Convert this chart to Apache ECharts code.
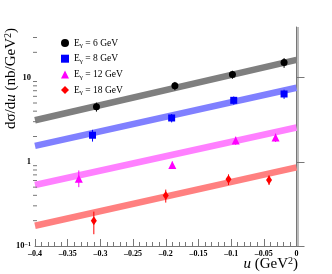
<!DOCTYPE html>
<html><head><meta charset="utf-8">
<script src="https://cdn.jsdelivr.net/npm/echarts@6/dist/echarts.min.js"></script>
<style>html,body{margin:0;padding:0;background:#fff}#c{width:332px;height:274px}</style>
</head><body><div id="c"></div>
<script>
// ---- data ----
const energies = ['6', '8', '12', '18'];
const u6 = [-0.306, -0.186, -0.098, -0.019];
const v6 = [4.5, 8.0, 10.9, 15.1];
const e6lo = [0.55, 0.9, 1.2, 2.0];
const e6hi = [0.55, 0.9, 1.2, 2.0];
const u8 = [-0.312, -0.191, -0.096, -0.019];
const v8 = [2.07, 3.32, 5.38, 6.4];
const e8lo = [0.33, 0.38, 0.6, 0.8];
const e8hi = [0.33, 0.38, 0.6, 0.8];
const u12 = [-0.333, -0.19, -0.093, -0.032];
const v12 = [0.63, 0.92, 1.79, 1.94];
const e12lo = [0.13, 0.09, 0.2, 0.22];
const e12hi = [0.16, 0.09, 0.2, 0.22];
const u18 = [-0.31, -0.2, -0.104, -0.042];
const v18 = [0.2, 0.398, 0.62, 0.61];
const e18lo = [0.062, 0.07, 0.09, 0.08];
const e18hi = [0.056, 0.07, 0.09, 0.08];
const fitU = [-0.4, 0];
const fit6 = [3.12, 16.3];
const fit8 = [1.55, 7.6];
const fit12 = [0.53, 2.56];
const fit18 = [0.174, 0.86];
const yMinorTicks = [0.2,0.3,0.4,0.5,0.6,0.7,0.8,0.9,2,3,4,5,6,7,8,9,20,30];
const xMin = -0.4, xMax = 0, yMin = 0.1, yMax = 40;

const colors = ['#000000', '#0000ff', '#ff00ff', '#ff0000'];
const bandColors = ['#7f7f7f', '#8080ff', '#ff80ff', '#ff8080'];
const symbols = ['circle', 'rect', 'triangle', 'diamond'];
const symSizes = [7, 7, 8, [6, 9]];
const us = [u6, u8, u12, u18], vs = [v6, v8, v12, v18];
const los = [e6lo, e8lo, e12lo, e18lo], his = [e6hi, e8hi, e12hi, e18hi];
const fits = [fit6, fit8, fit12, fit18];

const serif = '"Liberation Serif", "DejaVu Serif", serif';
const series = [];
energies.forEach((E, i) => {
  series.push({
    type: 'line', silent: true, symbol: 'none', z: 1,
    data: fitU.map((x, k) => [x, fits[i][k]]),
    lineStyle: { color: bandColors[i], width: 6.5, cap: 'butt' }
  });
});
energies.forEach((E, i) => {
  series.push({
    type: 'custom', silent: true, z: 3,
    data: us[i].map((x, k) => [x, vs[i][k], los[i][k], his[i][k]]),
    renderItem: function (params, api) {
      const x = api.value(0), y = api.value(1);
      const a = api.coord([x, y - api.value(2)]);
      const b = api.coord([x, y + api.value(3)]);
      return { type: 'line', shape: { x1: a[0], y1: a[1], x2: b[0], y2: b[1] },
        style: { stroke: colors[i], lineWidth: 1 } };
    }
  });
});
energies.forEach((E, i) => {
  series.push({
    name: E, type: 'scatter', z: 5,
    symbol: symbols[i], symbolSize: symSizes[i],
    itemStyle: { color: colors[i], opacity: 1 },
    data: us[i].map((x, k) => [x, vs[i][k]])
  });
});
// minor log ticks on y axis
series.push({
  type: 'custom', silent: true, z: 6,
  data: yMinorTicks.map(v => [xMin, v]),
  renderItem: function (params, api) {
    const p = api.coord([api.value(0), api.value(1)]);
    return { type: 'line', shape: { x1: p[0] - 2, y1: p[1], x2: p[0] + 2, y2: p[1] },
      style: { stroke: '#777', lineWidth: 1 } };
  }
});
// right frame line
series.push({
  type: 'custom', silent: true, z: 6,
  data: [[xMax, yMin]],
  renderItem: function (params, api) {
    const a = api.coord([xMax, yMin]);
    const b = api.coord([xMax, yMax]);
    return { type: 'line', shape: { x1: a[0] + 1.5, y1: a[1], x2: b[0] + 1.5, y2: b[1] },
      style: { stroke: '#777', lineWidth: 1 } };
  }
});

const chart = echarts.init(document.getElementById('c'), null, { renderer: 'canvas' });
const fmtMinus = v => String(v).replace('-', '\u2013');
chart.setOption({
  animation: false,
  grid: { left: 35, right: 35.5, top: 27, bottom: 28 },
  legend: {
    data: energies, orient: 'vertical', left: 56, top: 32,
    itemWidth: 8, itemHeight: 8, itemGap: 3.7,
    formatter: n => '{m|E}{s|\u03b3}{m| = ' + n + ' GeV}',
    textStyle: { fontFamily: serif, fontSize: 9.5, color: '#000', lineHeight: 12,
      rich: { m: { fontFamily: serif, fontSize: 9.5, lineHeight: 12 },
              s: { fontFamily: serif, fontSize: 7, lineHeight: 7, verticalAlign: 'bottom' } } }
  },
  xAxis: {
    type: 'value', min: xMin, max: xMax, interval: 0.05,
    axisLine: { show: true, lineStyle: { color: '#777' } },
    axisTick: { show: true, inside: true, length: 7, lineStyle: { color: '#777' } },
    minorTick: { show: true, splitNumber: 5, length: 4, lineStyle: { color: '#777' } },
    splitLine: { show: false },
    axisLabel: { fontFamily: serif, fontWeight: 'bold', fontSize: 8, color: '#000', margin: 4,
      formatter: v => fmtMinus(Math.round(v * 100) / 100) }
  },
  yAxis: {
    type: 'log', logBase: 10, min: yMin, max: yMax, offset: 2,
    axisLine: { show: true, lineStyle: { color: '#777' } },
    axisTick: { show: true, inside: true, length: 8, lineStyle: { color: '#777' } },
    splitLine: { show: false },
    axisLabel: { fontFamily: serif, fontWeight: 'bold', fontSize: 8.5, color: '#000', margin: 2,
      showMaxLabel: false,
      formatter: v => (v < 0.5 ? '10{sup|\u22121}' : (v < 5 ? '1' : '10')),
      rich: { sup: { fontFamily: serif, fontWeight: 'bold', fontSize: 6, verticalAlign: 'top', lineHeight: 6 } } }
  },
  graphic: [{
    type: 'text', x: 11.5, y: 28, rotation: Math.PI / 2,
    style: {
      text: '{n|d\u03c3/d}{i|u}{n| (nb/GeV}{p|2}{n|)}',
      align: 'right', verticalAlign: 'middle',
      rich: { n: { fontFamily: serif, fontSize: 15, fill: '#000', lineHeight: 16 },
              i: { fontFamily: serif, fontStyle: 'italic', fontSize: 15, fill: '#000', lineHeight: 16 },
              p: { fontFamily: serif, fontSize: 10, fill: '#000', lineHeight: 10, verticalAlign: 'top' } }
    }
  }, {
    type: 'text', x: 298, y: 264,
    style: {
      text: '{i|u}{n| (GeV}{p|2}{n|)}',
      align: 'right', verticalAlign: 'middle',
      rich: { n: { fontFamily: serif, fontSize: 15, fill: '#000', lineHeight: 16 },
              i: { fontFamily: serif, fontStyle: 'italic', fontSize: 15, fill: '#000', lineHeight: 16 },
              p: { fontFamily: serif, fontSize: 10, fill: '#000', lineHeight: 10, verticalAlign: 'top' } }
    }
  }],
  series: series
});
</script></body></html>
